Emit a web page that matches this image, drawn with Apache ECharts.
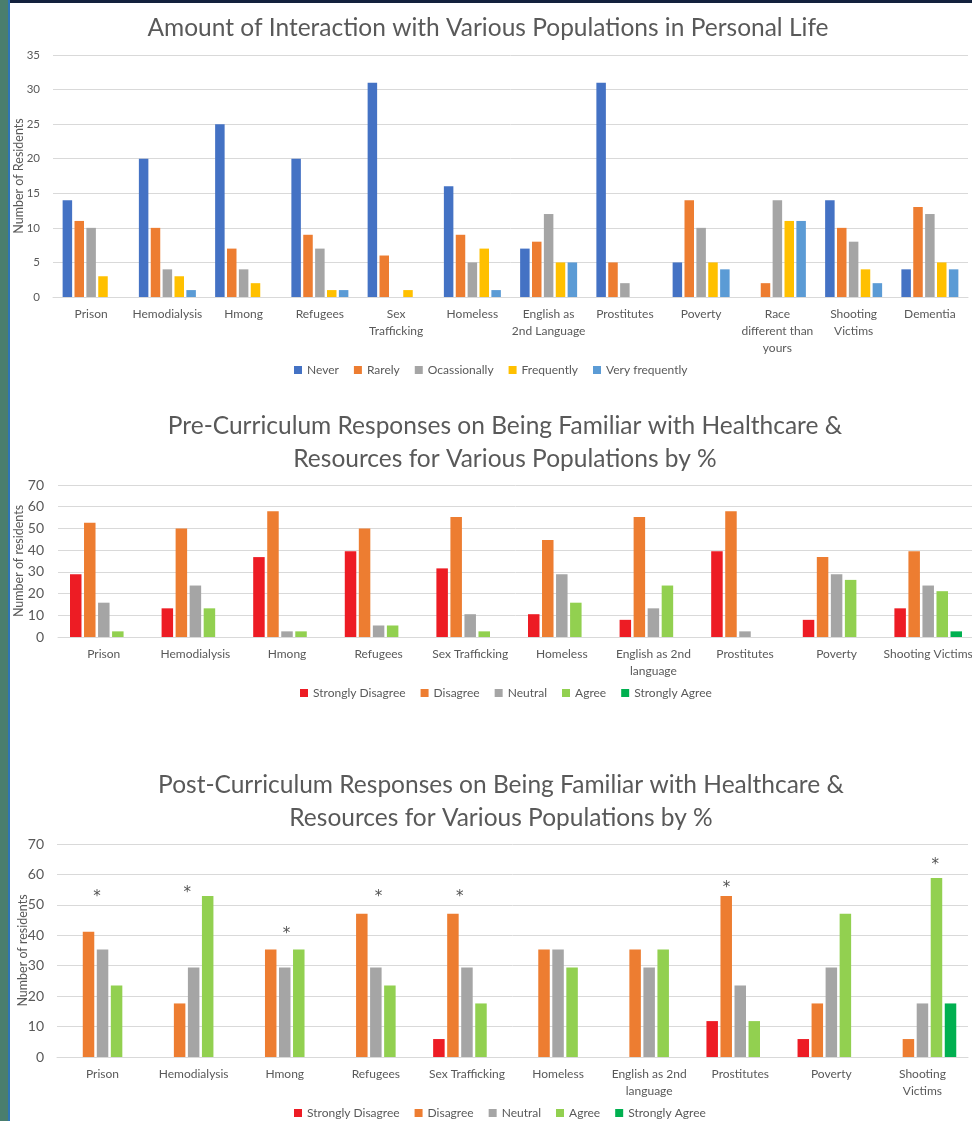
<!DOCTYPE html>
<html><head><meta charset="utf-8">
<script src="https://cdn.jsdelivr.net/npm/echarts@6/dist/echarts.min.js"></script>
<style>
html,body{margin:0;padding:0;background:#fff;}
#c{position:absolute;left:0;top:0;width:972px;height:1121px;}
#teal{position:absolute;left:0;top:0;width:8px;height:1121px;background:#4a7e6e;}
#blue{position:absolute;left:8px;top:0;width:2px;height:1121px;background:#2e75b6;}
#navy{position:absolute;left:10px;top:0;width:962px;height:3px;background:#13213d;}
</style></head><body>
<div id="c"></div><div id="teal"></div><div id="blue"></div><div id="navy"></div>
<script>
// ---- Chart 1: Amount of interaction ----
const interactionCategories = ['Prison','Hemodialysis','Hmong','Refugees','Sex\nTrafficking','Homeless','English as\n2nd Language','Prostitutes','Poverty','Race\ndifferent than\nyours','Shooting\nVictims','Dementia'];
const interactionSeries = ['Never','Rarely','Ocassionally','Frequently','Very frequently'];
const never          = [14,20,25,20,31,16, 7,31, 5, 0,14, 4];
const rarely         = [11,10, 7, 9, 6, 9, 8, 5,14, 2,10,13];
const occasionally   = [10, 4, 4, 7, 0, 5,12, 2,10,14, 8,12];
const frequently     = [ 3, 3, 2, 1, 1, 7, 5, 0, 5,11, 4, 5];
const veryFrequently = [ 0, 1, 0, 1, 0, 1, 5, 0, 4,11, 2, 4];
const interactionTicks = {min:0, max:35, interval:5};

// ---- Chart 2: Pre-curriculum ----
const preCategories = ['Prison','Hemodialysis','Hmong','Refugees','Sex Trafficking','Homeless','English as 2nd\nlanguage','Prostitutes','Poverty','Shooting Victims'];
const responseSeries = ['Strongly Disagree','Disagree','Neutral','Agree','Strongly Agree'];
const preStronglyDisagree = [28.9,13.2,36.8,39.5,31.6,10.5, 7.9,39.5, 7.9,13.2];
const preDisagree         = [52.6,50.0,57.9,50.0,55.3,44.7,55.3,57.9,36.8,39.5];
const preNeutral          = [15.8,23.7, 2.6, 5.3,10.5,28.9,13.2, 2.6,28.9,23.7];
const preAgree            = [ 2.6,13.2, 2.6, 5.3, 2.6,15.8,23.7, 0,  26.3,21.1];
const preStronglyAgree    = [ 0,   0,   0,   0,   0,   0,   0,   0,   0,   2.6];

// ---- Chart 3: Post-curriculum ----
const postCategories = ['Prison','Hemodialysis','Hmong','Refugees','Sex Trafficking','Homeless','English as 2nd\nlanguage','Prostitutes','Poverty','Shooting\nVictims'];
const postStronglyDisagree = [ 0,   0,   0,   0,   5.9, 0,   0,  11.8, 5.9, 0];
const postDisagree         = [41.2,17.6,35.3,47.1,47.1,35.3,35.3,52.9,17.6, 5.9];
const postNeutral          = [35.3,29.4,29.4,29.4,29.4,35.3,29.4,23.5,29.4,17.6];
const postAgree            = [23.5,52.9,35.3,23.5,17.6,29.4,35.3,11.8,47.1,58.8];
const postStronglyAgree    = [ 0,   0,   0,   0,   0,   0,   0,   0,   0,  17.6];
const responseTicks = {min:0, max:70, interval:10};
// significance markers: place along the category axis (in category units) and height (value units)
const asteriskAlong  = [0.44,1.43,2.52,3.53,4.42,7.35,9.64];
const asteriskHeight = [53.9,55.3,41.8,53.9,53.9,56.9,64.5];

const FONT = 'Lato';
const TXT = '#595959';
const GRIDC = '#d9d9d9';
const interactionColors = ['#4472c4','#ed7d31','#a5a5a5','#ffc000','#5b9bd5'];
const responseColors = ['#ed1c24','#ed7d31','#a5a5a5','#92d050','#00b050'];

function catAxis(gridIndex, data){
  return {type:'category', gridIndex, data,
    axisTick:{show:false},
    axisLine:{show:true, lineStyle:{color:GRIDC, width:1}},
    axisLabel:{interval:0, color:TXT, fontFamily:FONT, fontSize:12, lineHeight:17, margin:9},
    splitLine:{show:false}};
}
function valAxis(gridIndex, ticks, name, gap, margin, labelSize){
  return {type:'value', gridIndex, min:ticks.min, max:ticks.max, interval:ticks.interval,
    name, nameLocation:'middle', nameGap:gap, nameMoveOverlap:false,
    nameTextStyle:{color:TXT, fontFamily:FONT, fontSize:12.5},
    axisLine:{show:false}, axisTick:{show:false},
    axisLabel:{color:TXT, fontFamily:FONT, fontSize:labelSize, margin},
    splitLine:{lineStyle:{color:GRIDC, width:1}}};
}
function bars(names, arrays, colors, xi, yi, bw, gap){
  return names.map((n,i)=>({type:'bar', name:n, xAxisIndex:xi, yAxisIndex:yi, data:arrays[i],
    barWidth:bw, barGap:gap, itemStyle:{color:colors[i]}, emphasis:{disabled:true}, silent:true}));
}
function legend(data, left, top){
  return {data, left, top, padding:0, itemWidth:8, itemHeight:8, itemGap:15, icon:'rect', selectedMode:false,
    textStyle:{color:TXT, fontFamily:FONT, fontSize:12}};
}
function title(text, x, top){
  return {text, left:x, top, textAlign:'center', padding:0,
    textStyle:{fontFamily:FONT, fontSize:24.5, fontWeight:'normal', color:TXT, lineHeight:33}};
}

const chart = echarts.init(document.getElementById('c'), null, {renderer:'canvas'});
chart.setOption({
  backgroundColor:'#ffffff',
  animation:false,
  title:[
    title('Amount of Interaction with Various Populations in Personal Life', 488, 11.5),
    title('Pre-Curriculum Responses on Being Familiar with Healthcare &\nResources for Various Populations by %', 505, 410),
    title('Post-Curriculum Responses on Being Familiar with Healthcare &\nResources for Various Populations by %', 501, 768.5)
  ],
  legend:[
    legend(interactionSeries, 294, 364),
    legend(responseSeries, 300, 687),
    legend(responseSeries, 294, 1107)
  ],
  grid:[
    {left:53, top:55, width:915, height:242, containLabel:false, outerBoundsMode:'none'},
    {left:58, top:485, width:916, height:152, containLabel:false, outerBoundsMode:'none'},
    {left:57, top:844, width:911, height:213, containLabel:false, outerBoundsMode:'none'}
  ],
  xAxis:[
    catAxis(0, interactionCategories),
    catAxis(1, preCategories),
    catAxis(2, postCategories),
    {type:'value', gridIndex:2, min:0, max:postCategories.length, show:false}
  ],
  yAxis:[
    valAxis(0, interactionTicks, 'Number of Residents', 28, 13, 11.5),
    valAxis(1, responseTicks, 'Number of residents', 33, 14, 14),
    valAxis(2, responseTicks, 'Number of residents', 28, 13, 14)
  ],
  series:[
    ...bars(interactionSeries, [never,rarely,occasionally,frequently,veryFrequently], interactionColors, 0, 0, 9.5, '25%'),
    ...bars(responseSeries, [preStronglyDisagree,preDisagree,preNeutral,preAgree,preStronglyAgree], responseColors, 1, 1, 11.5, '22%'),
    ...bars(responseSeries, [postStronglyDisagree,postDisagree,postNeutral,postAgree,postStronglyAgree], responseColors, 2, 2, 11.5, '22%'),
    {type:'scatter', xAxisIndex:3, yAxisIndex:2, silent:true,
      data: asteriskAlong.map((x,i)=>[x, asteriskHeight[i]]),
      symbol:'circle', symbolSize:1, itemStyle:{color:'rgba(0,0,0,0)'},
      label:{show:true, position:'inside', formatter:'*', color:'#262626', fontFamily:'DejaVu Sans', fontSize:15, offset:[0,4]}}
  ]
});
</script>
</body></html>
